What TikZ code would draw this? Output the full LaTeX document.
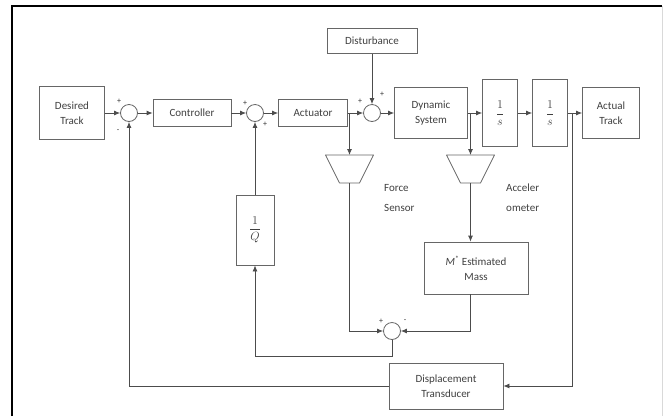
\documentclass[tikz,border=0pt]{standalone}
\usepackage{fontspec}
\setmainfont{Carlito}
\usepackage{amsmath}
\usetikzlibrary{arrows.meta}

\begin{document}
\begin{tikzpicture}[x=1pt,y=-1pt,>={Latex[length=6pt,width=5pt]},
  block/.style={draw=black!60, line width=0.8pt, fill=white, align=center, inner sep=0pt,
                text=black!75, font=\fontsize{11}{15}\selectfont},
  sumnode/.style={circle, draw=black!60, line width=0.8pt, minimum size=17pt, inner sep=0pt},
  sensorline/.style={draw=black!60, line width=0.8pt, line join=round},
  sig/.style={draw=black!70, line width=0.8pt},
  sgn/.style={font=\fontsize{8}{8}\selectfont, inner sep=0pt, text=black!80},
  lbl/.style={anchor=west, align=left, inner sep=0pt, text=black!75, font=\fontsize{11}{20}\selectfont},
  frac/.style={font=\fontsize{13}{15}\selectfont}]

	\useasboundingbox (0,0) rectangle (663,416);
	
	% frame
	\draw[line width=2pt] (12,416) -- (12,6) -- (662,6);
	\draw[black!15, line width=1pt] (662,6) -- (662,416);
	
	% main row
	\node[block, minimum width=65pt, minimum height=53pt] (desired) at (72,113) {Desired\\Track};
	\node[sumnode] (s1) at (129,113) {};
	\node[block, minimum width=78pt, minimum height=27pt] (ctrl) at (192,113) {Controller};
	\node[sumnode] (s2) at (255,113) {};
	\node[block, minimum width=69pt, minimum height=27pt] (act) at (313,113) {Actuator};
	\node[block, minimum width=90pt, minimum height=25pt] (dist) at (372,41) {Disturbance};
	\node[sumnode] (s3) at (372,113) {};
	\node[block, minimum width=73pt, minimum height=51pt] (dyn) at (431,113) {Dynamic\\System};
	\node[block, frac, minimum width=35pt, minimum height=67pt] (int1) at (500,113) {$\dfrac{1}{s}$};
	\node[block, frac, minimum width=35pt, minimum height=67pt] (int2) at (550,113) {$\dfrac{1}{s}$};
	\node[block, minimum width=57pt, minimum height=51pt] (actual) at (611,113) {Actual\\Track};
	
	% sensors (drawn as trapezoids)
	\draw[sensorline] (325.5,155) -- (373.5,155) -- (359.5,183) -- (339.5,183) -- cycle;
	\draw[sensorline] (446.5,155) -- (494.5,155) -- (480.5,183) -- (460.5,183) -- cycle;
	\coordinate (fsensT) at (349.5,155);
	\coordinate (fsensB) at (349.5,183);
	\coordinate (asensT) at (470.5,155);
	\coordinate (asensB) at (470.5,183);
	\node[lbl] (flabel) at (384,198) {Force\\Sensor};
	\node[lbl] (alabel) at (506,198) {Acceler\\ometer};
	
	% inner loop blocks
	\node[block, minimum width=104pt, minimum height=52pt] (mass) at (476,268) {\textit{M}\textsuperscript{*} Estimated\\Mass};
	\node[sumnode] (s4) at (392,331) {};
	\node[block, frac, minimum width=38pt, minimum height=70pt] (invq) at (255,230) {$\dfrac{1}{Q}$};
	\node[block, minimum width=114pt, minimum height=46pt] (dt) at (446,386) {Displacement\\Transducer};
	
	\coordinate (fb) at (349.5,113);
	\coordinate (ab) at (470.5,113);
	\coordinate (tap) at (572,113);
	\coordinate (low) at (392,356);
	
	% forward path
	\draw[sig,->] (desired) -- (s1);
	\draw[sig,->] (s1) -- (ctrl);
	\draw[sig,->] (ctrl) -- (s2);
	\draw[sig,->] (s2) -- (act);
	\draw[sig,->] (act) -- (s3);
	\draw[sig,->] (dist) -- (s3);
	\draw[sig,->] (s3) -- (dyn);
	\draw[sig,->] (dyn) -- (int1);
	\draw[sig,->] (int1) -- (int2);
	\draw[sig,->] (int2) -- (actual);
	
	% force / acceleration loop
	\draw[sig,->] (fb) -- (fsensT);
	\draw[sig,->] (ab) -- (asensT);
	\draw[sig,->] (asensB) -- (asensB |- mass.north);
	\draw[sig,->] (fsensB) -- (fsensB |- s4) -- (s4);
	\draw[sig,->] (mass.south -| asensB) -- (asensB |- s4) -- (s4);
	\draw[sig,->] (s4) -- (low) -- (invq |- low) -- (invq);
	\draw[sig,->] (invq) -- (s2);
	
	% displacement loop
	\draw[sig,->] (tap) -- (tap |- dt) -- (dt);
	\draw[sig,->] (dt) -- (s1 |- dt) -- (s1);
	
	% signs
	\node[sgn] at (119,101) {+};
	\node[sgn] at (118,131) {-};
	\node[sgn] at (245,103) {+};
	\node[sgn] at (265,124) {+};
	\node[sgn] at (360,101) {+};
	\node[sgn] at (382,94) {+};
	\node[sgn] at (381,321) {+};
	\node[sgn] at (405,321) {-};
	
\end{tikzpicture}
\end{document}
